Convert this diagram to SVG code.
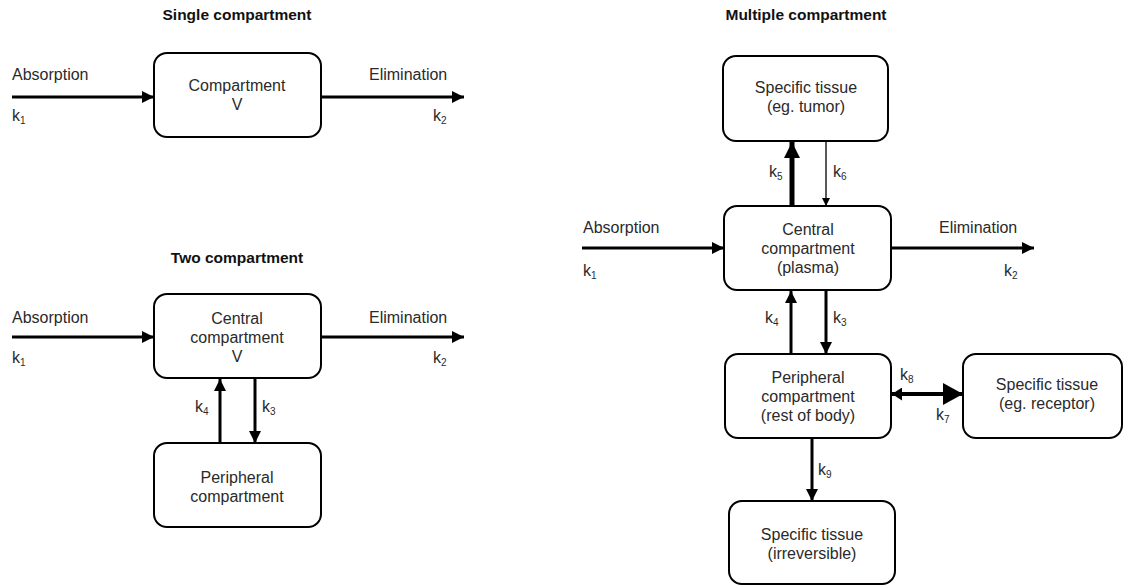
<svg xmlns="http://www.w3.org/2000/svg" width="1124" height="586" viewBox="0 0 1124 586">
<defs>
<style>
text{font-family:"Liberation Sans",Arial,sans-serif;font-size:16px;fill:#2a2a2a}
.t{font-weight:bold;font-size:15.5px;fill:#111;text-anchor:middle}
.c{text-anchor:middle}
.s{font-size:10px}
.box{fill:#fff;stroke:#000;stroke-width:2}
.a{stroke:#000;stroke-width:3;fill:none;marker-end:url(#ah)}
.thin{stroke:#000;stroke-width:1.3;fill:none;marker-end:url(#ahs)}
.big5{stroke:#000;stroke-width:5;fill:none;marker-end:url(#ahb5)}
.big7{stroke:#000;stroke-width:4;fill:none;marker-end:url(#ahb7);marker-start:url(#ahl)}
</style>
<marker id="ah" markerUnits="userSpaceOnUse" markerWidth="12" markerHeight="12" refX="12" refY="6" orient="auto"><path d="M0,0L12,6L0,12z" fill="#000"/></marker>
<marker id="ahs" markerUnits="userSpaceOnUse" markerWidth="8" markerHeight="8" refX="8" refY="4" orient="auto"><path d="M0,0L8,4L0,8z" fill="#000"/></marker>
<marker id="ahb5" markerUnits="userSpaceOnUse" markerWidth="16" markerHeight="16" refX="16" refY="8" orient="auto"><path d="M0,0L16,8L0,16z" fill="#000"/></marker>
<marker id="ahb7" markerUnits="userSpaceOnUse" markerWidth="20" markerHeight="22" refX="20" refY="11" orient="auto"><path d="M0,0L20,11L0,22z" fill="#000"/></marker>
<marker id="ahl" markerUnits="userSpaceOnUse" markerWidth="10" markerHeight="13" refX="0" refY="6.5" orient="auto"><path d="M10,0L0,6.5L10,13z" fill="#000"/></marker>
</defs>

<text class="t" x="237" y="20">Single compartment</text>
<text class="t" x="237" y="263">Two compartment</text>
<text class="t" x="806" y="20">Multiple compartment</text>

<g id="connectors">
<line class="a" x1="12" y1="97" x2="154" y2="97"/>
<line class="a" x1="321" y1="97" x2="464" y2="97"/>
<line class="a" x1="12" y1="337" x2="154" y2="337"/>
<line class="a" x1="321" y1="337" x2="464" y2="337"/>
<line class="a" x1="220" y1="443" x2="220" y2="379"/>
<line class="a" x1="255" y1="379" x2="255" y2="443"/>
<line class="a" x1="582" y1="248" x2="724" y2="248"/>
<line class="a" x1="891" y1="248" x2="1034" y2="248"/>
<line class="big5" x1="792" y1="206" x2="792" y2="142"/>
<line class="thin" x1="826" y1="142" x2="826" y2="206"/>
<line class="a" x1="791" y1="354" x2="791" y2="291"/>
<line class="a" x1="826" y1="291" x2="826" y2="354"/>
<line class="big7" x1="892" y1="394" x2="963" y2="394"/>
<line class="a" x1="812" y1="438" x2="812" y2="501"/>
</g>

<g id="labels">
<text x="12" y="80">Absorption</text>
<text x="12" y="121">k<tspan class="s" dy="3">1</tspan></text>
<text x="369" y="80">Elimination</text>
<text x="433" y="121">k<tspan class="s" dy="3">2</tspan></text>
<text x="12" y="323">Absorption</text>
<text x="12" y="363">k<tspan class="s" dy="3">1</tspan></text>
<text x="369" y="323">Elimination</text>
<text x="433" y="363">k<tspan class="s" dy="3">2</tspan></text>
<text x="195" y="412">k<tspan class="s" dy="3">4</tspan></text>
<text x="262" y="412">k<tspan class="s" dy="3">3</tspan></text>
<text x="583" y="233">Absorption</text>
<text x="583" y="276">k<tspan class="s" dy="3">1</tspan></text>
<text x="939" y="233">Elimination</text>
<text x="1004" y="276">k<tspan class="s" dy="3">2</tspan></text>
<text x="769" y="177">k<tspan class="s" dy="3">5</tspan></text>
<text x="833" y="177">k<tspan class="s" dy="3">6</tspan></text>
<text x="765" y="323">k<tspan class="s" dy="3">4</tspan></text>
<text x="833" y="323">k<tspan class="s" dy="3">3</tspan></text>
<text x="900" y="380">k<tspan class="s" dy="3">8</tspan></text>
<text x="936" y="420">k<tspan class="s" dy="3">7</tspan></text>
<text x="818" y="475">k<tspan class="s" dy="3">9</tspan></text>
</g>

<g id="single">
<rect class="box" x="154" y="53" width="167" height="84" rx="13"/>
<text class="c" x="237" y="91">Compartment</text>
<text class="c" x="237" y="110">V</text>
</g>
<g id="two-central">
<rect class="box" x="154" y="294" width="167" height="84" rx="13"/>
<text class="c" x="237" y="324">Central</text>
<text class="c" x="237" y="343">compartment</text>
<text class="c" x="237" y="362">V</text>
</g>
<g id="two-peripheral">
<rect class="box" x="154" y="443" width="167" height="84" rx="13"/>
<text class="c" x="237" y="483">Peripheral</text>
<text class="c" x="237" y="502">compartment</text>
</g>
<g id="tumor">
<rect class="box" x="723" y="56" width="165" height="85" rx="13"/>
<text class="c" x="806" y="93">Specific tissue</text>
<text class="c" x="806" y="112">(eg. tumor)</text>
</g>
<g id="central">
<rect class="box" x="724" y="206" width="167" height="84" rx="13"/>
<text class="c" x="808" y="235">Central</text>
<text class="c" x="808" y="254">compartment</text>
<text class="c" x="808" y="273">(plasma)</text>
</g>
<g id="peripheral">
<rect class="box" x="725" y="354" width="166" height="84" rx="13"/>
<text class="c" x="808" y="383">Peripheral</text>
<text class="c" x="808" y="402">compartment</text>
<text class="c" x="808" y="421">(rest of body)</text>
</g>
<g id="receptor">
<rect class="box" x="963" y="354" width="159" height="84" rx="13"/>
<text class="c" x="1047" y="390">Specific tissue</text>
<text class="c" x="1047" y="409">(eg. receptor)</text>
</g>
<g id="irreversible">
<rect class="box" x="729" y="501" width="166" height="83" rx="13"/>
<text class="c" x="812" y="540">Specific tissue</text>
<text class="c" x="812" y="559">(irreversible)</text>
</g>
</svg>
